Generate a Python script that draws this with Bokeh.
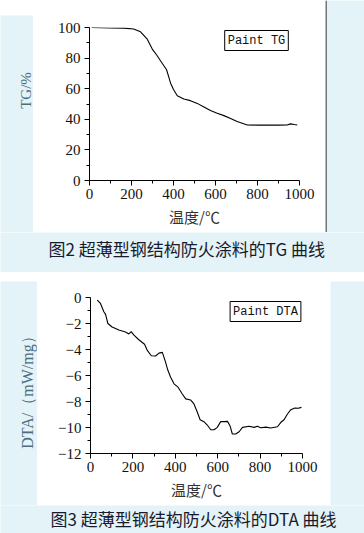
import math
from bokeh.plotting import figure
from bokeh.models import Label, Range1d, FixedTicker, BoxAnnotation
from bokeh.layouts import column, row
from bokeh.embed import file_html
from bokeh.resources import INLINE

# ---------------- data ----------------
tg_temp = [10, 100, 163, 210, 243, 275, 299, 320, 338, 367, 378, 386, 400, 418, 449,
           481, 513, 545, 576, 608, 640, 672, 703, 751, 800, 900, 941, 957, 975, 989]
tg_mass = [100, 99.7, 99.6, 99.0, 97.2, 92.4, 85.9, 82.0, 78.3, 72.4, 67.4, 63.6, 59.5, 55.4, 53.3,
           52.2, 50.4, 48.0, 45.7, 44.0, 42.4, 40.5, 38.5, 36.3, 36.2, 36.2, 36.3, 37.0, 36.6, 36.3]

dta_temp = [32, 47, 63, 71, 82, 102, 134, 165, 181, 192, 205, 228, 255, 268, 287, 307, 323, 339,
            354, 365, 378, 394, 413, 433, 449, 472, 488, 504, 517, 535, 551, 567, 583, 598, 614,
            630, 646, 658, 669, 685, 701, 717, 748, 772, 787, 803, 827, 850, 882, 898, 913, 929,
            945, 964, 980, 995]
dta_signal = [-0.2, -0.46, -1.1, -1.3, -2.0, -2.27, -2.5, -2.65, -2.8, -2.62, -2.9, -3.25, -3.6,
              -4.07, -4.48, -4.5, -4.28, -4.22, -4.97, -5.6, -6.13, -6.64, -6.9, -7.42, -7.8,
              -7.88, -8.19, -8.83, -9.4, -9.55, -9.81, -10.17, -10.17, -9.99, -9.55, -9.55,
              -9.53, -9.86, -10.5, -10.5, -10.33, -9.99, -9.91, -9.99, -9.91, -10.02, -9.97,
              -10.04, -9.94, -9.6, -9.4, -8.96, -8.63, -8.5, -8.52, -8.45]

x_ticks = [0, 200, 400, 600, 800, 1000]
x_minor = [100, 300, 500, 700, 900]
tg_ticks = [0, 20, 40, 60, 80, 100]
tg_minor = [10, 30, 50, 70, 90]
dta_ticks = [0, -2, -4, -6, -8, -10, -12]
dta_minor = [-1, -3, -5, -7, -9, -11]
dta_tick_labels = {t: ("\u2212" + str(-t) if t < 0 else str(t)) for t in dta_ticks}

tg_caption = "图2 超薄型钢结构防火涂料的TG 曲线"
dta_caption = "图3 超薄型钢结构防火涂料的DTA 曲线"
x_label = "温度/℃"
tg_ylabel = "TG/%"
dta_ylabel = "DTA/（mW/mg）"
tg_legend = "Paint TG"
dta_legend = "Paint DTA"

LIGHT = "#e3f3f8"
SERIF = "Liberation Serif"
CJK = "Noto Sans CJK SC"


def blank(w, h, fill):
    f = figure(width=w, height=h, output_backend="svg", toolbar_location=None,
               x_axis_location=None, y_axis_location=None,
               x_range=Range1d(0, 1), y_range=Range1d(0, 1),
               min_border=0, frame_align=False,
               background_fill_color=fill, border_fill_color=fill)
    f.outline_line_color = None
    f.grid.visible = False
    return f


def put_text(p, fx, fy, s, font, size, color, align="left", angle=0.0, **kw):
    # fx, fy: screen offsets from the frame's bottom-left corner
    p.add_layout(Label(x=fx, y=fy, x_units="screen", y_units="screen", text=s,
                       text_font=font, text_font_size=size, text_color=color,
                       text_align=align, text_baseline="middle", angle=angle, **kw))


def make_plot(w, h, left, top, fw, fh, yrange, yticks, yminor, overrides=None):
    p = figure(width=w, height=h, output_backend="svg", toolbar_location=None,
               x_range=Range1d(0, 1000), y_range=Range1d(*yrange),
               min_border_left=left, min_border_right=w - left - fw,
               min_border_top=top, min_border_bottom=h - top - fh,
               frame_align=False,
               background_fill_color="white", border_fill_color="white")
    p.outline_line_color = None
    p.xgrid.visible = False
    p.ygrid.visible = False
    p.xaxis.ticker = FixedTicker(ticks=x_ticks, minor_ticks=x_minor)
    p.yaxis.ticker = FixedTicker(ticks=yticks, minor_ticks=yminor)
    if overrides:
        p.yaxis.major_label_overrides = overrides
    for ax in (p.xaxis, p.yaxis):
        ax.axis_line_color = "black"
        ax.major_tick_line_color = "black"
        ax.minor_tick_line_color = "black"
        ax.major_tick_in = 0
        ax.major_tick_out = 5
        ax.minor_tick_in = 0
        ax.minor_tick_out = 3
        ax.major_label_text_font = SERIF
        ax.major_label_text_font_size = "15px"
        ax.major_label_text_color = "#111111"
    p.yaxis.major_label_standoff = 4
    p.xaxis.major_label_standoff = 3
    p.xaxis.axis_label = x_label
    p.xaxis.axis_label_text_font = CJK
    p.xaxis.axis_label_text_font_size = "15px"
    p.xaxis.axis_label_text_font_style = "normal"
    p.xaxis.axis_label_text_color = "#333333"
    p.xaxis.axis_label_standoff = 4
    return p


# ---------------- TG block (page y 0..232) ----------------
p1 = make_plot(292, 232, 56, 27, 210, 153, (0, 100), tg_ticks, tg_minor)
p1.line(tg_temp, tg_mass, line_color="black", line_width=1.1)
put_text(p1, 167, 140, tg_legend, "Liberation Mono", "12px", "#111111", align="center",
         border_line_color="black", border_line_width=1, background_fill_color="white", padding=3)

tg_strip = blank(33, 217, LIGHT)
put_text(tg_strip, 25, 142, tg_ylabel, SERIF, "15px", "#4d6e7e", align="center", angle=math.pi / 2)
left1 = column(blank(33, 15, "white"), tg_strip, spacing=0)
right1 = blank(39, 232, LIGHT)
right1.add_layout(BoxAnnotation(left=0, right=1, left_units="screen", right_units="screen",
                                fill_color="black", fill_alpha=1.0, line_color=None))
top_block = row(left1, p1, right1, spacing=0)

cap1 = blank(364, 40, LIGHT)
put_text(cap1, 48, 24, tg_caption, CJK, "17px", "#1a1a2e")

gap = blank(364, 9, "white")

# ---------------- DTA block (page y 281..505) ----------------
p2 = make_plot(293, 224, 53, 16, 212, 156, (-12, 0), dta_ticks, dta_minor, dta_tick_labels)
p2.line(dta_temp, dta_signal, line_color="black", line_width=1.1)
put_text(p2, 175, 142, dta_legend, "Liberation Mono", "12px", "#111111", align="center",
         border_line_color="black", border_line_width=1, background_fill_color="white", padding=3)

dta_strip = blank(37, 224, LIGHT)
put_text(dta_strip, 27, 117, dta_ylabel, SERIF, "16px", "#4d6e7e", align="center", angle=math.pi / 2)
bottom_block = row(dta_strip, p2, blank(34, 224, LIGHT), spacing=0)

cap2 = blank(364, 28, LIGHT)
put_text(cap2, 50, 15, dta_caption, CJK, "17px", "#1a1a2e")

layout = column(top_block, cap1, gap, bottom_block, cap2, spacing=0)
open("out.html", "w").write(file_html(layout, INLINE))
